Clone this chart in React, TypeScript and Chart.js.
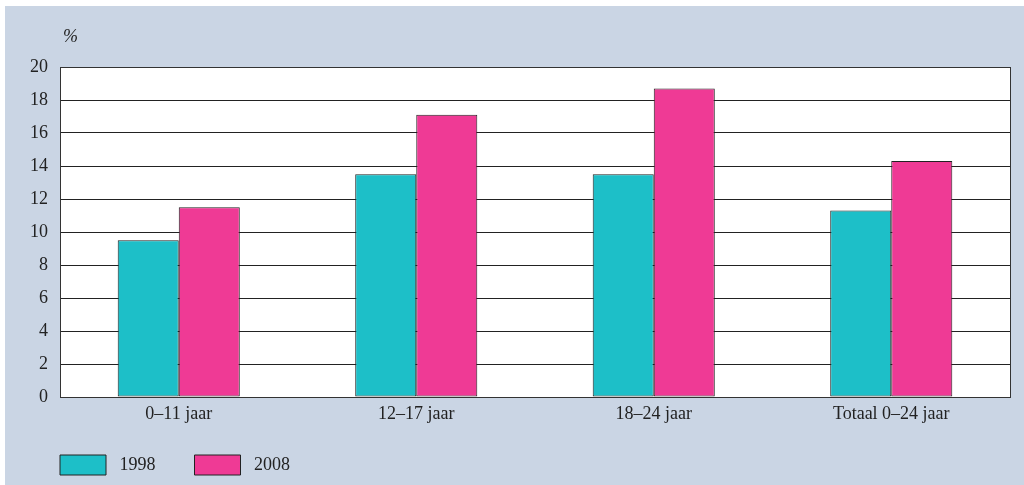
import React, { useEffect, useRef } from "react";
import { Chart, registerables } from "chart.js";

Chart.register(...registerables);

const categories = ["0–11 jaar", "12–17 jaar", "18–24 jaar", "Totaal 0–24 jaar"];
const series1998 = [9.5, 13.5, 13.5, 11.3];
const series2008 = [11.5, 17.1, 18.7, 14.3];
const seriesNames = ["1998", "2008"];
const yTicks = [0, 2, 4, 6, 8, 10, 12, 14, 16, 18, 20];
const unitLabel = "%";

const FONT = "'Liberation Serif', 'Times New Roman', serif";
const FS = 18;
const LEGEND_PAD = 39;

const extrasPlugin = {
  id: "extras",
  beforeLayout(chart: any) {
    const lg = chart.legend;
    if (lg && !lg.__patched) {
      const orig = lg.fit.bind(lg);
      lg.fit = function () {
        orig();
        this.height = 50;
      };
      lg.__patched = true;
    }
  },
  afterLayout(chart: any) {
    const lg = chart.legend;
    if (lg) {
      const dx = chart.chartArea.left - LEGEND_PAD - lg.left;
      lg.left += dx;
      lg.right += dx;
      const newTop = 449 - LEGEND_PAD;
      const dy = newTop - lg.top;
      lg.top = newTop;
      lg.bottom = chart.height;
      lg.height = lg.bottom - lg.top;
      if (lg.legendHitBoxes) {
        lg.legendHitBoxes.forEach((b: any) => {
          b.left += dx;
          b.top += dy;
        });
      }
    }
  },
  beforeDraw(chart: any) {
    const { ctx, chartArea } = chart;
    ctx.save();
    ctx.fillStyle = "#ffffff";
    ctx.fillRect(chartArea.left, chartArea.top, chartArea.right - chartArea.left, chartArea.bottom - chartArea.top);
    ctx.restore();
  },
  afterDraw(chart: any) {
    const { ctx, chartArea } = chart;
    ctx.save();
    ctx.font = `italic ${FS}px ${FONT}`;
    ctx.fillStyle = "#222";
    ctx.textAlign = "left";
    ctx.textBaseline = "alphabetic";
    ctx.fillText(unitLabel, chartArea.left + 3, chartArea.top - 25);
    ctx.strokeStyle = "#333";
    ctx.lineWidth = 1;
    ctx.strokeRect(
      Math.round(chartArea.left) + 0.5,
      Math.round(chartArea.top) + 0.5,
      Math.round(chartArea.right - chartArea.left),
      Math.round(chartArea.bottom - chartArea.top)
    );
    ctx.restore();
  },
};

export default function App() {
  const ref = useRef<HTMLCanvasElement | null>(null);
  useEffect(() => {
    document.body.style.margin = "0";
    const chart = new Chart(ref.current as HTMLCanvasElement, {
      type: "bar",
      data: {
        labels: categories,
        datasets: [
          {
            label: seriesNames[0],
            data: series1998,
            backgroundColor: "#1dbfc8",
            borderColor: "#222222",
            borderWidth: 1,
            borderSkipped: false,
          },
          {
            label: seriesNames[1],
            data: series2008,
            backgroundColor: "#ef3a95",
            borderColor: "#222222",
            borderWidth: 1,
            borderSkipped: false,
          },
        ],
      },
      options: {
        animation: false,
        responsive: false,
        maintainAspectRatio: false,
        datasets: { bar: { categoryPercentage: 0.514, barPercentage: 1 } },
        layout: { padding: { left: 5, right: 14, top: 61, bottom: 0 } },
        scales: {
          x: {
            afterFit: (s: any) => {
              s.height = 38;
            },
            grid: { display: false, drawTicks: false },
            border: { display: false },
            ticks: { color: "#222", font: { family: FONT, size: FS }, padding: 6 },
          },
          y: {
            min: 0,
            max: 20,
            afterBuildTicks: (s: any) => {
              s.ticks = yTicks.map((v) => ({ value: v }));
            },
            afterFit: (s: any) => {
              s.width = 50;
            },
            grid: { color: "#222", lineWidth: 1, drawTicks: false },
            border: { display: false },
            ticks: { color: "#222", font: { family: FONT, size: FS }, padding: 12 },
          },
        },
        plugins: {
          tooltip: { enabled: false },
          legend: {
            position: "bottom",
            align: "start",
            labels: {
              boxWidth: 46,
              boxHeight: 20,
              padding: LEGEND_PAD,
              color: "#222",
              font: { family: FONT, size: FS },
              generateLabels: (chart: any) =>
                Chart.defaults.plugins.legend.labels.generateLabels(chart).map((it: any) => ({
                  ...it,
                  text: " " + it.text,
                })),
            },
          },
        },
      },
      plugins: [extrasPlugin],
    });
    return () => chart.destroy();
  }, []);
  return (
    <div style={{ position: "fixed", left: 0, top: 0, width: 1024, height: 485, background: "#fff" }}>
      <div style={{ position: "absolute", left: 5, top: 6, width: 1019, height: 479, background: "#cad5e4" }}>
        <canvas ref={ref} width={1019} height={479} style={{ display: "block" }} />
      </div>
    </div>
  );
}
